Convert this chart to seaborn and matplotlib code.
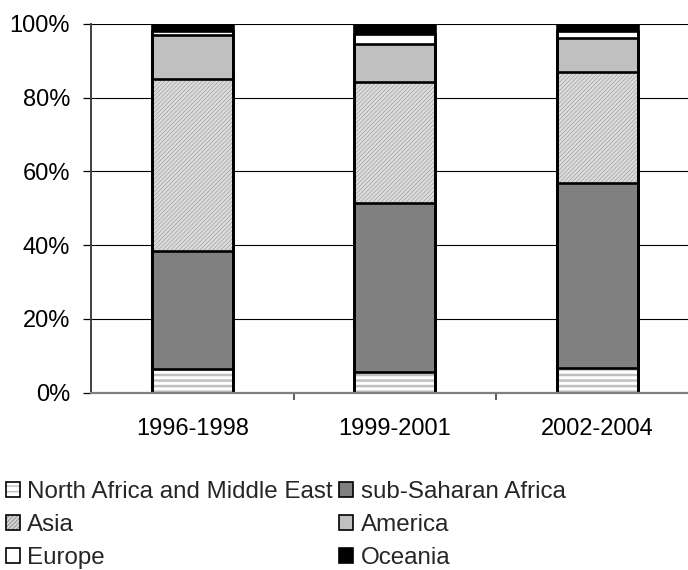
import matplotlib
matplotlib.use("Agg")
import matplotlib.pyplot as plt
from matplotlib.patches import Patch
from matplotlib.legend_handler import HandlerTuple
from matplotlib.ticker import PercentFormatter, FixedLocator
import numpy as np
import pandas as pd
import seaborn as sns

# Regional shares (%) of the total, per period
periods = ["1996-1998", "1999-2001", "2002-2004"]
regions = ["North Africa and Middle East", "sub-Saharan Africa", "Asia",
           "America", "Europe", "Oceania"]
north_africa_me = [6.5, 5.5, 6.7]
sub_saharan = [31.8, 46.0, 50.2]
asia = [46.8, 32.8, 30.0]
america = [11.9, 10.3, 9.4]
europe = [1.0, 2.6, 1.8]
oceania = [2.0, 2.8, 1.9]

series = [north_africa_me, sub_saharan, asia, america, europe, oceania]

# Fill style per region: (face, hatch, hatch colour, hatch linewidth)
styles = [
    ("white", "---", "#BFBFBF", 1.8),
    ("#808080", None, None, None),
    ("#DCDCDC", "////////", "#A0A0A0", 0.5),
    ("#C0C0C0", None, None, None),
    ("white", None, None, None),
    ("black", None, None, None),
]

sns.set_theme(style="white")
plt.rcParams["font.family"] = ["Liberation Sans", "DejaVu Sans"]

fig = plt.figure(figsize=(6.88, 5.70), dpi=100)
ax = fig.add_axes([0.1323, 0.3114, 0.8677, 0.6465])

vals = np.array(series) / 100.0
cum = np.cumsum(vals, axis=0)

BAR_W = 0.4
# Draw cumulative totals from the top segment down so each lower
# segment covers the part of the bar beneath it.
for i in range(len(regions) - 1, -1, -1):
    face, hatch, hcol, hlw = styles[i]
    df = pd.DataFrame({"period": periods, "share": cum[i]})
    n_before = len(ax.patches)
    sns.barplot(data=df, x="period", y="share", color=face, width=BAR_W,
                saturation=1, edgecolor=hcol if hatch else face,
                linewidth=0, hatch=hatch, ax=ax, zorder=3)
    for p in ax.patches[n_before:]:
        p.set_facecolor(face)
        if hatch and hasattr(p, "set_hatch_linewidth"):
            p.set_hatch_linewidth(hlw)
    # black outline of the same bars
    sns.barplot(data=df, x="period", y="share", color="white", width=BAR_W,
                saturation=1, fill=False, edgecolor="black", linewidth=1.9,
                ax=ax, zorder=4)

ax.set_xlim(-0.5, 2.448)
ax.set_ylim(0, 1)
ax.set_xlabel("")
ax.set_ylabel("")

ax.yaxis.set_major_locator(FixedLocator(np.linspace(0, 1, 6)))
ax.yaxis.set_major_formatter(PercentFormatter(1.0, decimals=0))
ax.grid(axis="y", color="black", linewidth=0.8, zorder=0)
ax.grid(axis="x", visible=False)
ax.set_axisbelow(True)

ax.tick_params(axis="y", which="major", left=True, length=6, width=0.9,
               color="black", pad=9, labelsize=17, labelcolor="black")
ax.tick_params(axis="x", which="major", bottom=True, length=0, pad=18,
               labelsize=17, labelcolor="black")
ax.xaxis.set_minor_locator(FixedLocator([0.5, 1.5]))
ax.tick_params(axis="x", which="minor", bottom=True, length=5, width=1.2,
               color="#404040")

for side in ["top", "right"]:
    ax.spines[side].set_visible(False)
ax.spines["left"].set_color("#404040")
ax.spines["left"].set_linewidth(1.4)
ax.spines["bottom"].set_color("#808080")
ax.spines["bottom"].set_linewidth(1.6)
ax.spines["bottom"].set_zorder(5)

# Legend keys: hatched fill overlaid with a black outline
handles = []
for i, name in enumerate(regions):
    face, hatch, hcol, hlw = styles[i]
    fill = Patch(facecolor=face, edgecolor=hcol if hatch else face,
                 linewidth=0, hatch=hatch)
    if hatch and hasattr(fill, "set_hatch_linewidth"):
        fill.set_hatch_linewidth(hlw)
    outline = Patch(facecolor="none", edgecolor="black", linewidth=1.2)
    handles.append((fill, outline))
# filled in column order so rows read pairwise
order = [0, 2, 4, 1, 3, 5]
leg = fig.legend([handles[k] for k in order], [regions[k] for k in order],
                 handler_map={tuple: HandlerTuple(ndivide=1, pad=0)},
                 loc="upper left", bbox_to_anchor=(0.008, 0.156),
                 ncol=2, frameon=False, fontsize=17.4, handlelength=0.6,
                 handleheight=0.6, handletextpad=0.3, columnspacing=0.25,
                 labelspacing=0.46, borderpad=0, borderaxespad=0)

fig.savefig("out.png", dpi=100)
